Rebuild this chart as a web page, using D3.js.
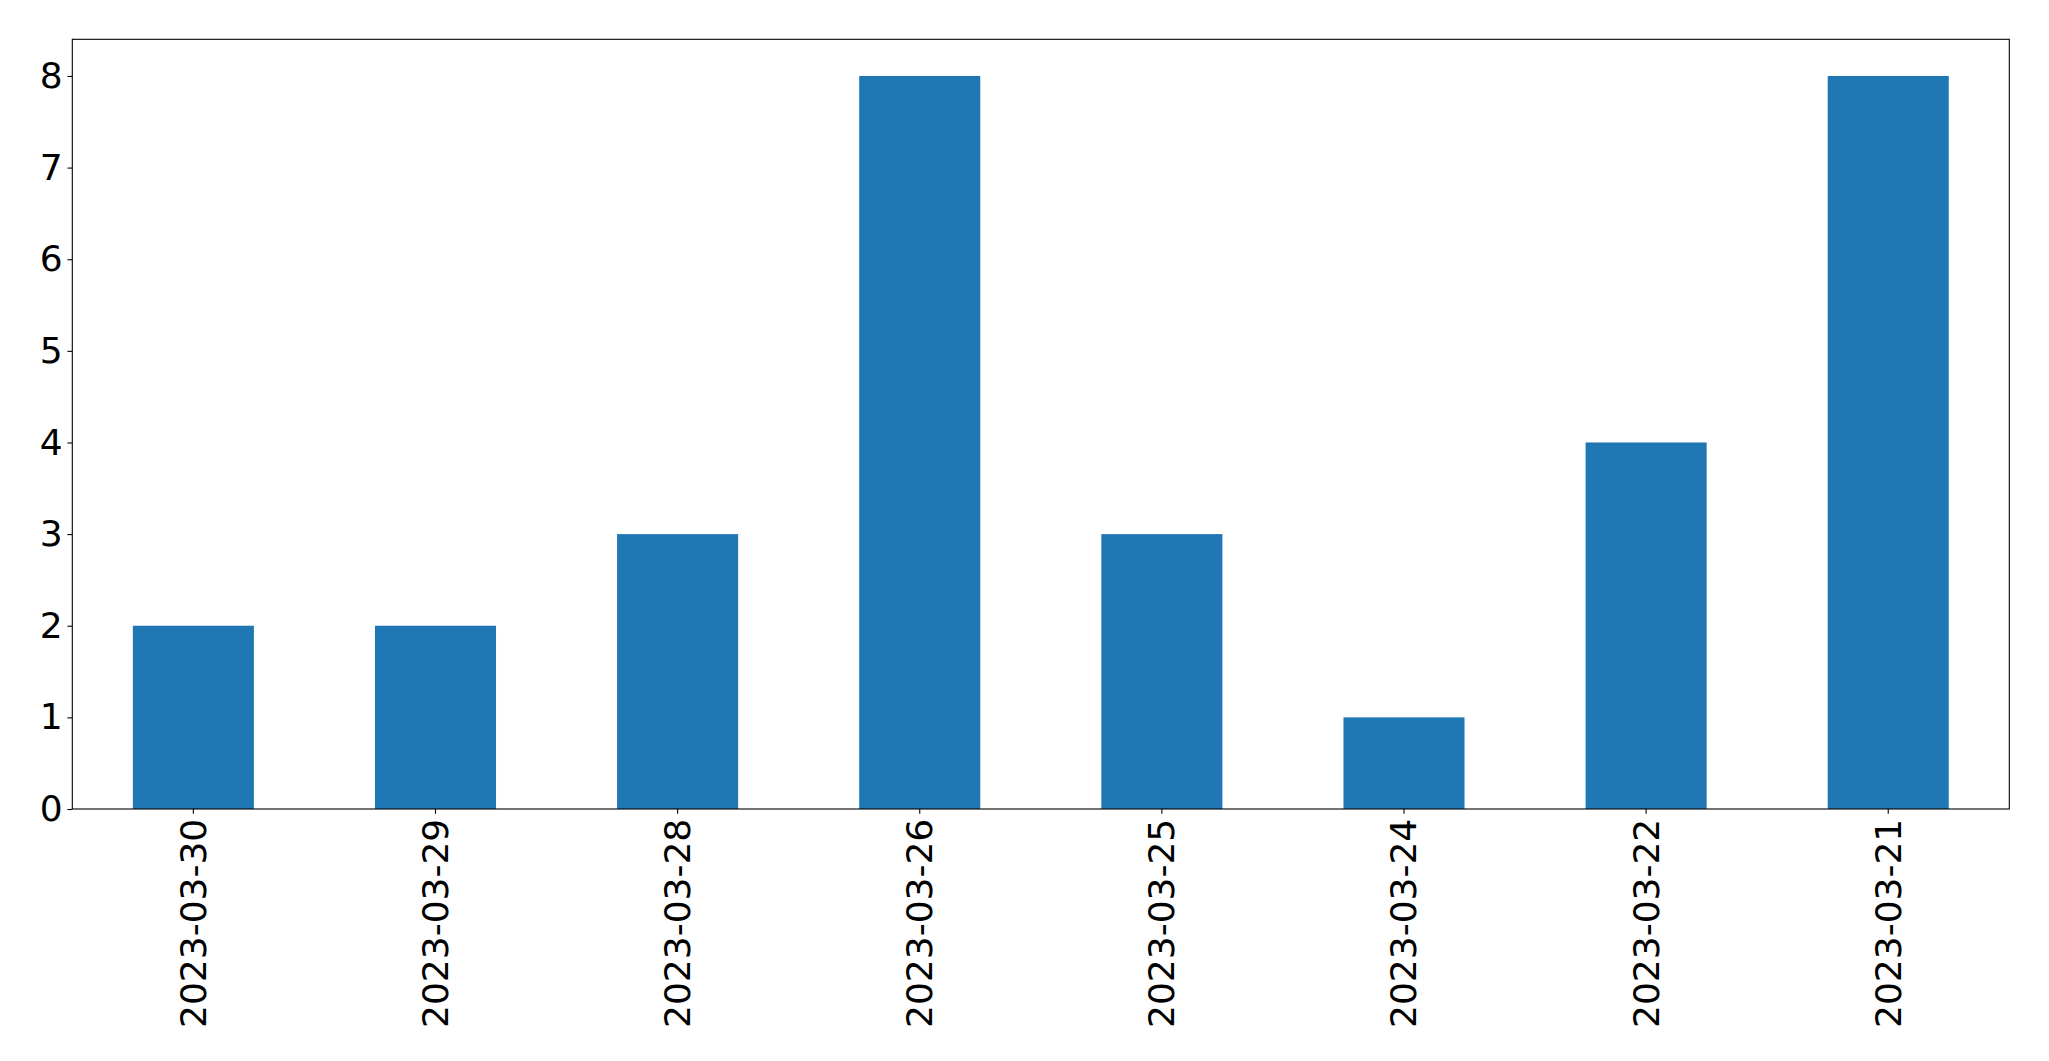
<!DOCTYPE html>
<html>
<head>
<meta charset="utf-8">
<script src="https://cdn.jsdelivr.net/npm/d3@7"></script>
<style>
html,body{margin:0;padding:0;background:#fff;}
svg{display:block;}
</style>
</head>
<body>
<svg id="chart" width="2049" height="1061"></svg>
<script>
const categories = ["2023-03-30","2023-03-29","2023-03-28","2023-03-26","2023-03-25","2023-03-24","2023-03-22","2023-03-21"];
const values = [2,2,3,8,3,1,4,8];
const yTicks = [0,1,2,3,4,5,6,7,8];

const W = 2049, H = 1061;
const m = {left: 72.3, top: 39.3, right: W - 2009.3, bottom: H - 809};
const iw = W - m.left - m.right, ih = H - m.top - m.bottom;
const fontSize = 36;
const font = "'DejaVu Sans', sans-serif";

const svg = d3.select("#chart");
const g = svg.append("g").attr("transform", `translate(${m.left},${m.top})`);

const x = d3.scaleBand().domain(categories).range([0, iw]).paddingInner(0.5).paddingOuter(0.25);
const y = d3.scaleLinear().domain([0, 8.4]).range([ih, 0]);

g.selectAll("rect.bar").data(values).enter().append("rect")
  .attr("class","bar")
  .attr("x", (d,i) => x(categories[i]))
  .attr("width", x.bandwidth())
  .attr("y", d => y(d))
  .attr("height", d => y(0) - y(d))
  .attr("fill", "#1f77b4");

const tickLen = 4.86, pad = 4.86;

const yAxis = g.append("g").call(d3.axisLeft(y).tickValues(yTicks).tickFormat(d3.format("d")).tickSize(tickLen).tickPadding(pad));
yAxis.select(".domain").remove();
yAxis.selectAll("line").attr("stroke","#000").attr("stroke-width",1.1);
yAxis.selectAll("text").attr("font-family", font).attr("font-size", fontSize).attr("fill","#000");

const xAxis = g.append("g").attr("transform", `translate(0,${ih})`)
  .call(d3.axisBottom(x).tickSize(tickLen).tickPadding(pad));
xAxis.select(".domain").remove();
xAxis.selectAll("line").attr("stroke","#000").attr("stroke-width",1.1);
xAxis.selectAll("text")
  .attr("font-family", font).attr("font-size", fontSize).attr("fill","#000")
  .attr("text-anchor","end")
  .attr("dy", null)
  .attr("y", 0)
  .attr("dominant-baseline","central")
  .attr("transform", `translate(0,${tickLen + pad}) rotate(-90)`);

g.append("rect").attr("x",0).attr("y",0).attr("width",iw).attr("height",ih)
  .attr("fill","none").attr("stroke","#000").attr("stroke-width",1.1);
</script>
</body>
</html>
